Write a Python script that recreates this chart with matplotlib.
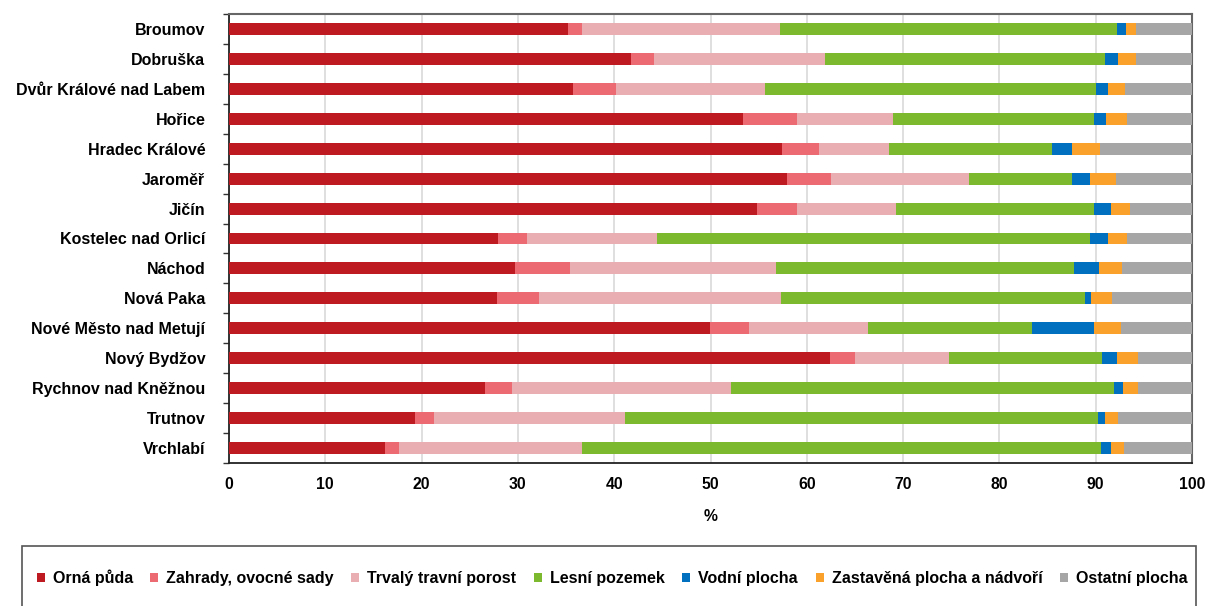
import matplotlib
matplotlib.use("Agg")
import matplotlib.pyplot as plt
import numpy as np
from matplotlib.ticker import FixedLocator
from matplotlib.patches import Rectangle

plt.rcParams['font.family'] = ['Liberation Sans', 'DejaVu Sans']
plt.rcParams['font.weight'] = 'bold'

towns = ["Broumov", "Dobruška", "Dvůr Králové nad Labem", "Hořice", "Hradec Králové",
         "Jaroměř", "Jičín", "Kostelec nad Orlicí", "Náchod", "Nová Paka",
         "Nové Město nad Metují", "Nový Bydžov", "Rychnov nad Kněžnou", "Trutnov", "Vrchlabí"]

orna =       [35.2, 41.7, 35.7, 53.4, 57.4, 57.9, 54.8, 27.9, 29.7, 27.8, 49.9, 62.4, 26.6, 19.3, 16.2]
zahrady =    [1.5, 2.4, 4.5, 5.6, 3.9, 4.6, 4.2, 3.0, 5.7, 4.4, 4.1, 2.6, 2.8, 2.0, 1.5]
travni =     [20.5, 17.8, 15.5, 9.9, 7.2, 14.3, 10.3, 13.5, 21.4, 25.1, 12.4, 9.8, 22.7, 19.8, 19.0]
lesni =      [35.0, 29.1, 34.3, 20.9, 17.0, 10.7, 20.5, 45.0, 30.9, 31.6, 17.0, 15.9, 39.8, 49.1, 53.8]
vodni =      [0.9, 1.3, 1.3, 1.3, 2.0, 1.9, 1.8, 1.9, 2.6, 0.6, 6.4, 1.5, 0.9, 0.8, 1.1]
zastavena =  [1.1, 1.9, 1.7, 2.2, 2.9, 2.7, 2.0, 2.0, 2.4, 2.2, 2.8, 2.2, 1.6, 1.3, 1.3]
ostatni =    [5.8, 5.8, 7.0, 6.7, 9.6, 7.9, 6.4, 6.7, 7.3, 8.3, 7.4, 5.6, 5.6, 7.7, 7.1]

series_names = ["Orná půda", "Zahrady, ovocné sady", "Trvalý travní porost", "Lesní pozemek",
                "Vodní plocha", "Zastavěná plocha a nádvoří", "Ostatní plocha"]
series = [orna, zahrady, travni, lesni, vodni, zastavena, ostatni]
colors = ["#BE1A22", "#EC6B73", "#E8AEB2", "#7DB92E", "#0070BF", "#F9A12A", "#A6A6A6"]

xticks = [0, 10, 20, 30, 40, 50, 60, 70, 80, 90, 100]

W, H = 1206, 606
fig = plt.figure(figsize=(W/100, H/100), dpi=100)
ax = fig.add_axes([229/W, 1 - 463/H, (1192-229)/W, (463-14)/H])

y = np.arange(len(towns))
left = np.zeros(len(towns))
for name, vals, c in zip(series_names, series, colors):
    v = np.array(vals)
    ax.barh(y, v, left=left, height=0.4, color=c, label=name, zorder=3)
    left += v

ax.set_ylim(len(towns) - 0.5, -0.5)
ax.set_xlim(0, 100)
ax.set_yticks(y)
ax.set_yticklabels(towns, fontsize=11.5)
ax.yaxis.set_minor_locator(FixedLocator(np.arange(-0.5, len(towns), 1.0)))
ax.tick_params(axis='y', which='major', length=0, pad=17)
ax.tick_params(axis='y', which='minor', length=4, width=1, color='#333333')
ax.set_xticks(xticks)
ax.set_xticklabels([str(t) for t in xticks], fontsize=11.3)
ax.tick_params(axis='x', length=0, pad=10)
ax.grid(axis='x', color='#D9D9D9', linewidth=1.2, zorder=0)
ax.set_xlabel('%', fontsize=11.3, fontweight='bold', labelpad=12)

for s in ['left', 'bottom']:
    ax.spines[s].set_color('#222222')
    ax.spines[s].set_linewidth(1.3)
for s in ['top', 'right']:
    ax.spines[s].set_color('#666666')
    ax.spines[s].set_linewidth(1.5)

# legend frame box
fig.patches.append(Rectangle((22/W, 1 - 610/H), (1196-22)/W, (610-546)/H,
                             transform=fig.transFigure, fill=False,
                             edgecolor='#555555', linewidth=1.2))
leg = fig.legend(loc='center', bbox_to_anchor=(612/W, 1 - 578/H), ncol=7,
                 fontsize=11.5, frameon=False,
                 handlelength=0.5, handleheight=0.5, handletextpad=0.5, columnspacing=1.1)

fig.savefig('out.png', dpi=100)
